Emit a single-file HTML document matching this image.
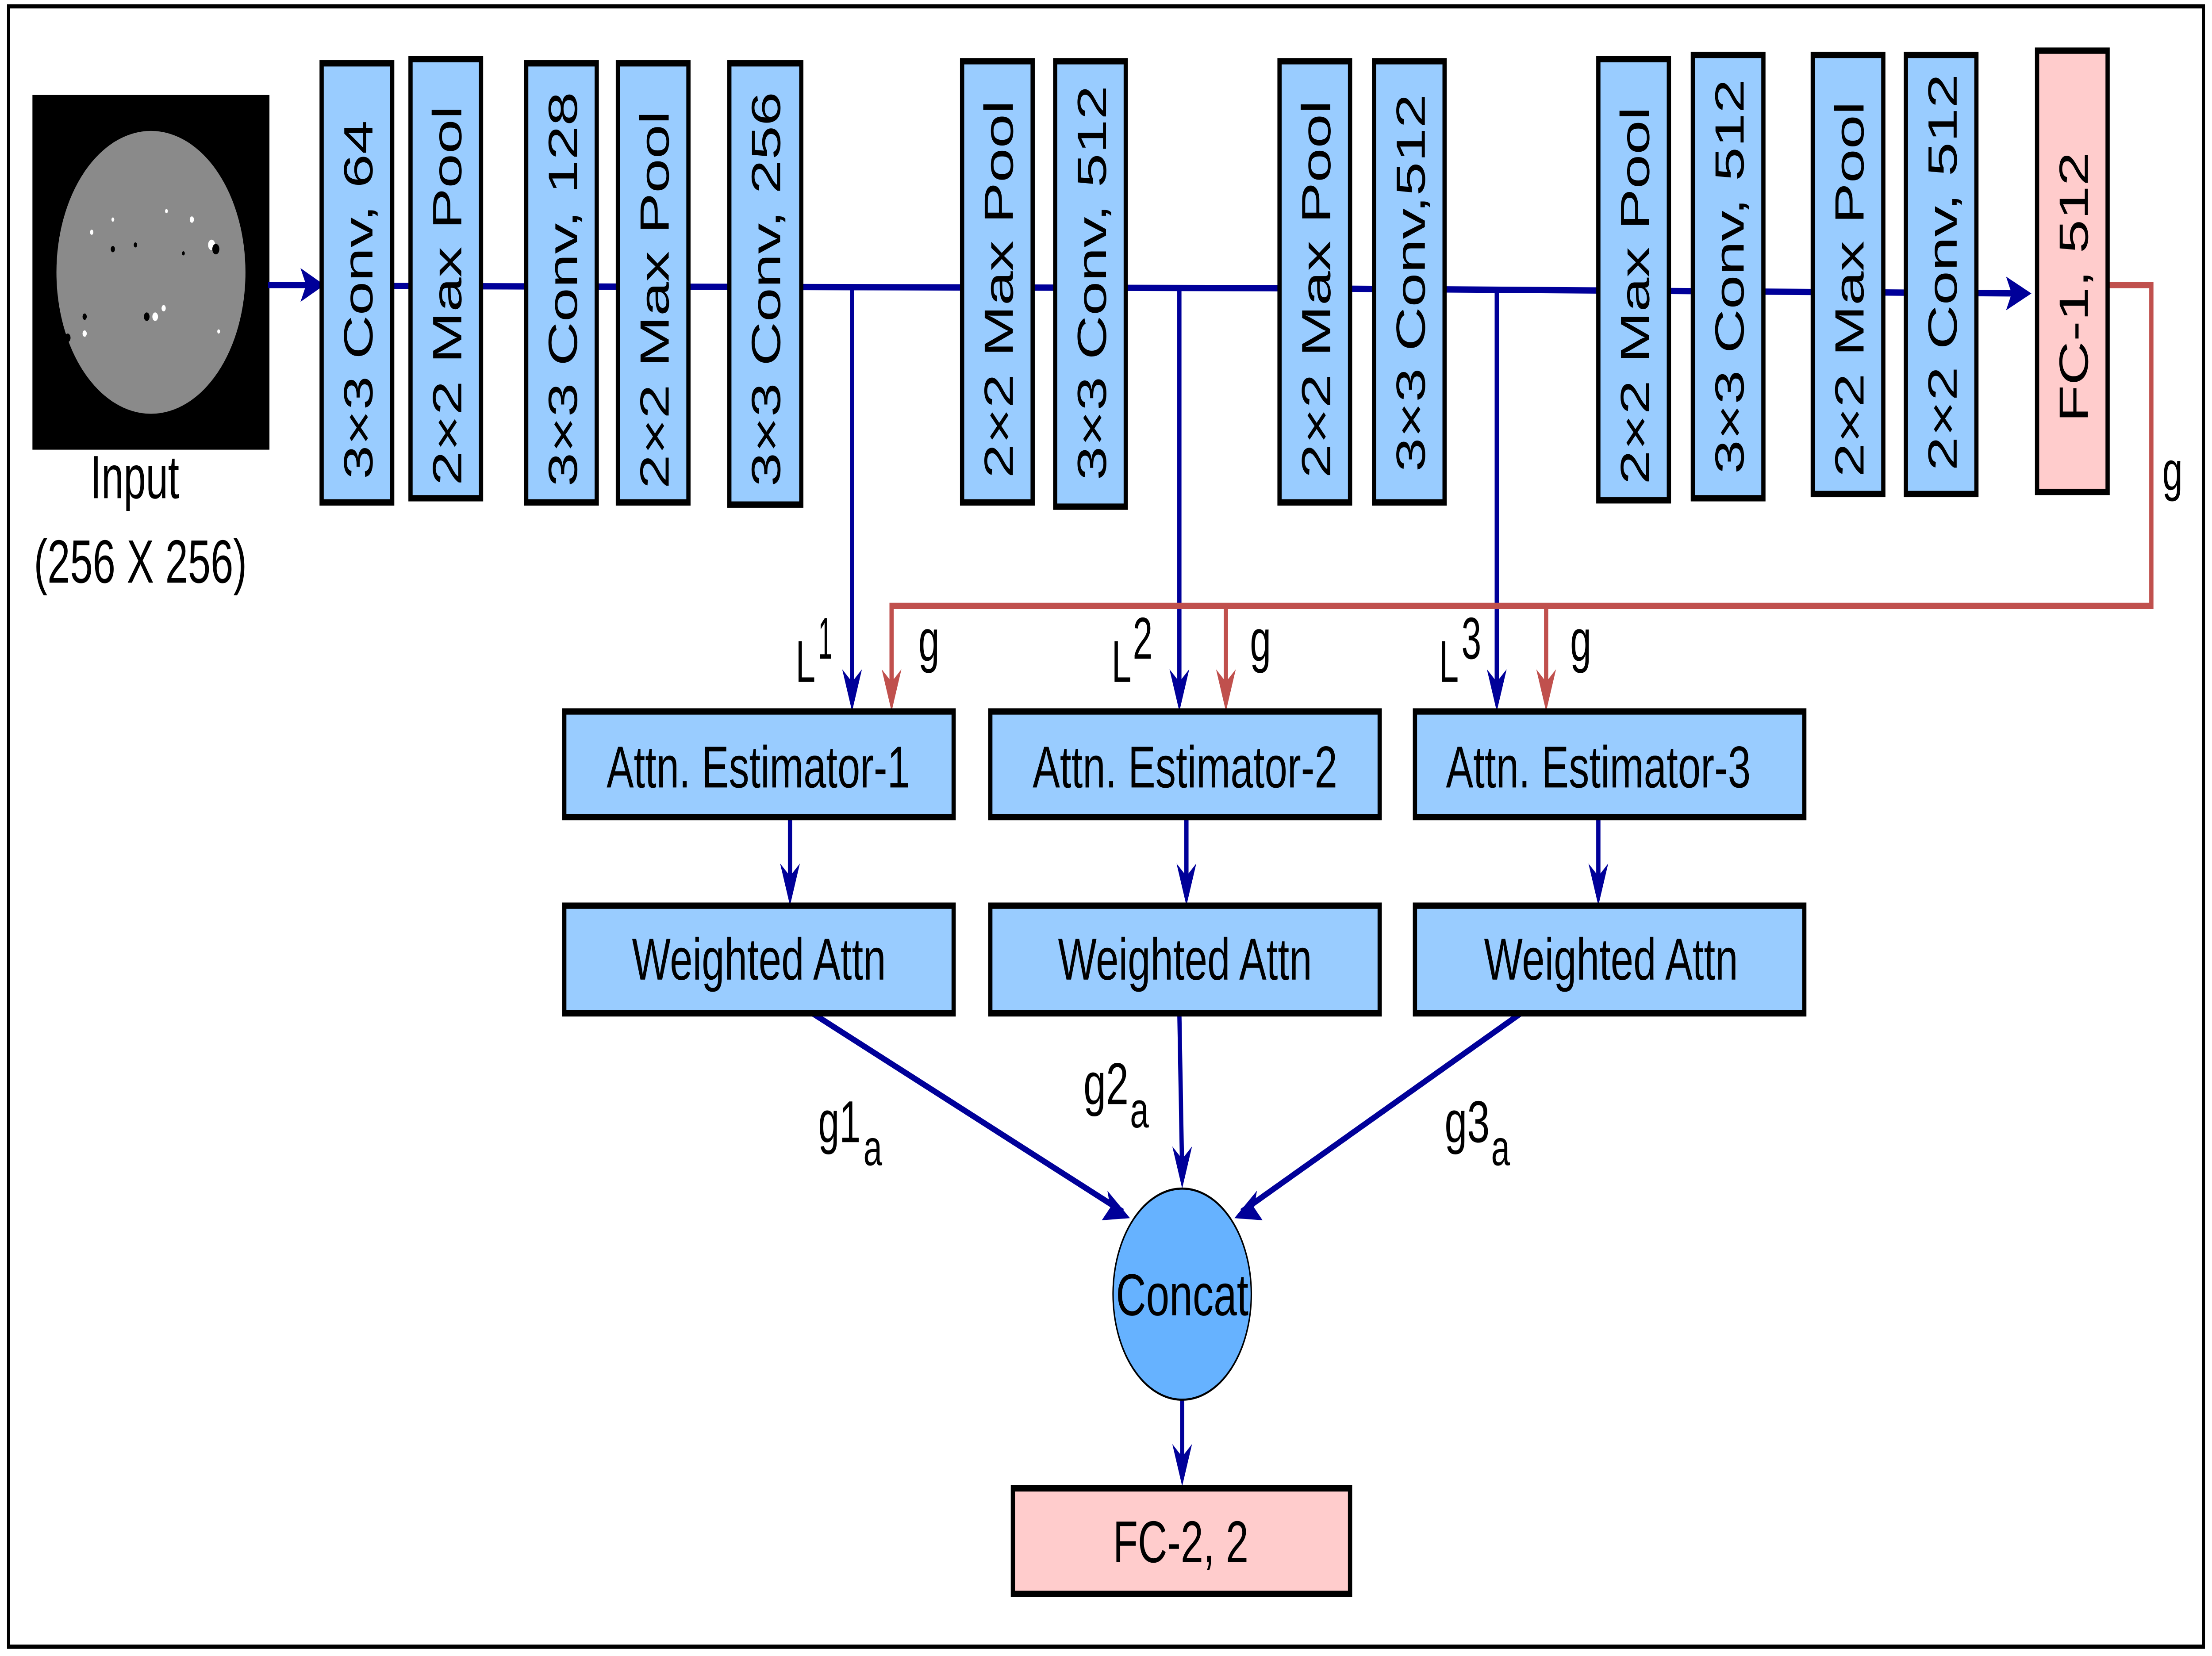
<!DOCTYPE html>
<html><head><meta charset="utf-8"><style>
html,body{margin:0;padding:0;background:#fff;width:100%;height:100%;overflow:hidden;}
svg{display:block;position:absolute;left:0;top:0;width:100vw;height:100vh;}
text{font-family:"Liberation Sans",Arial,sans-serif;fill:#000;}
</style></head><body>
<svg viewBox="0 0 1568 784.4" preserveAspectRatio="none" xmlns="http://www.w3.org/2000/svg">
<rect x="0" y="0" width="1568" height="785" fill="#fff"/>
<rect x="6" y="3" width="1556" height="777" fill="none" stroke="#000" stroke-width="2"/>
<rect x="23" y="45" width="168" height="168" fill="#000"/>
<circle cx="107" cy="129" r="67" fill="#8a8a8a"/>
<g fill="#fff"><circle cx="65" cy="110" r="1.2"/><circle cx="80" cy="104" r="1"/><circle cx="118" cy="100" r="1"/><circle cx="136" cy="104" r="1.5"/><circle cx="150" cy="116" r="2.5"/><circle cx="110" cy="150" r="2"/><circle cx="116" cy="146" r="1.5"/><circle cx="60" cy="158" r="1.5"/><circle cx="155" cy="157" r="1"/></g>
<g fill="#000"><circle cx="153" cy="118" r="2.5"/><circle cx="104" cy="150" r="2"/><circle cx="80" cy="118" r="1.5"/><circle cx="60" cy="150" r="1.5"/><circle cx="130" cy="120" r="1"/><circle cx="96" cy="116" r="1.2"/><circle cx="48" cy="160" r="2"/></g>
<text x="64" y="236" font-size="29" textLength="63" lengthAdjust="spacingAndGlyphs">Input</text>
<text x="24" y="276" font-size="29" textLength="151" lengthAdjust="spacingAndGlyphs">(256 X 256)</text>

<g stroke="#000099" stroke-width="3" fill="none">
<line x1="190" y1="135" x2="220" y2="135"/>
<polyline points="278,135.5 900,136.5 1434,139"/>
<line x1="604" y1="136" x2="604" y2="330"/>
<line x1="836" y1="136.5" x2="836" y2="330"/>
<line x1="1061" y1="137.5" x2="1061" y2="330"/>
<line x1="560" y1="387" x2="560" y2="423"/>
<line x1="841" y1="387" x2="841" y2="423"/>
<line x1="1133" y1="387" x2="1133" y2="423"/>
<line x1="576" y1="480" x2="796" y2="574"/>
<line x1="836" y1="480" x2="838" y2="556"/>
<line x1="1078" y1="480" x2="880" y2="574"/>
<line x1="838" y1="663" x2="838" y2="697"/>
</g>
<g fill="#000099">
<polygon points="230,135 213,127 217,135 213,143"/>
<polygon points="1440,139 1422,131 1426,139 1422,147"/>
<polygon points="604,337 597,317 604,323 611,317"/>
<polygon points="836,337 829,317 836,323 843,317"/>
<polygon points="1061,337 1054,317 1061,323 1068,317"/>
<polygon points="560,429 553,409 560,415 567,409"/>
<polygon points="841,429 834,409 841,415 848,409"/>
<polygon points="1133,429 1126,409 1133,415 1140,409"/>
<polygon points="838,563 831,543 838,549 845,543"/>
<polygon points="838,704 831,684 838,690 845,684"/>
<polygon points="801,577 781,578 787,572 785,564"/>
<polygon points="875,577 895,578 889,572 891,564"/>
</g>
<g stroke="#C0504D" stroke-width="3" fill="none">
<polyline points="1494,135 1525,135 1525,287 632,287 632,330"/>
<line x1="869" y1="287" x2="869" y2="330"/>
<line x1="1096" y1="287" x2="1096" y2="330"/>
</g>
<g fill="#C0504D">
<polygon points="632,337 625,317 632,323 639,317"/>
<polygon points="869,337 862,317 869,323 876,317"/>
<polygon points="1096,337 1089,317 1096,323 1103,317"/>
</g>

<g stroke="#000" stroke-width="3" fill="#99CCFF">
<rect x="228" y="30" width="50" height="208"/>
<rect x="291" y="28" width="50" height="208"/>
<rect x="373" y="30" width="50" height="208"/>
<rect x="438" y="30" width="50" height="208"/>
<rect x="517" y="30" width="51" height="209"/>
<rect x="682" y="29" width="50" height="209"/>
<rect x="748" y="29" width="50" height="211"/>
<rect x="907" y="29" width="50" height="209"/>
<rect x="974" y="29" width="50" height="209"/>
<rect x="1133" y="28" width="50" height="209"/>
<rect x="1200" y="26" width="50" height="210"/>
<rect x="1285" y="26" width="50" height="208"/>
<rect x="1351" y="26" width="50" height="208"/>
<rect x="1444" y="24" width="50" height="209" fill="#FFCCCC"/>
</g>
<g font-size="29" text-anchor="middle">
<text transform="translate(264 142) rotate(-90)" textLength="170" lengthAdjust="spacingAndGlyphs">3×3 Conv, 64</text>
<text transform="translate(327 140) rotate(-90)" textLength="180" lengthAdjust="spacingAndGlyphs">2×2 Max Pool</text>
<text transform="translate(409 137) rotate(-90)" textLength="187" lengthAdjust="spacingAndGlyphs">3×3 Conv, 128</text>
<text transform="translate(474 142) rotate(-90)" textLength="179" lengthAdjust="spacingAndGlyphs">2×2 Max Pool</text>
<text transform="translate(553 137) rotate(-90)" textLength="187" lengthAdjust="spacingAndGlyphs">3×3 Conv, 256</text>
<text transform="translate(718 137) rotate(-90)" textLength="179" lengthAdjust="spacingAndGlyphs">2×2 Max Pool</text>
<text transform="translate(784 134) rotate(-90)" textLength="187" lengthAdjust="spacingAndGlyphs">3×3 Conv, 512</text>
<text transform="translate(943 137) rotate(-90)" textLength="179" lengthAdjust="spacingAndGlyphs">2×2 Max Pool</text>
<text transform="translate(1010 134) rotate(-90)" textLength="179" lengthAdjust="spacingAndGlyphs">3×3 Conv,512</text>
<text transform="translate(1169 140) rotate(-90)" textLength="179" lengthAdjust="spacingAndGlyphs">2×2 Max Pool</text>
<text transform="translate(1236 131) rotate(-90)" textLength="187" lengthAdjust="spacingAndGlyphs">3×3 Conv, 512</text>
<text transform="translate(1321 137) rotate(-90)" textLength="178" lengthAdjust="spacingAndGlyphs">2×2 Max Pool</text>
<text transform="translate(1387 129) rotate(-90)" textLength="188" lengthAdjust="spacingAndGlyphs">2×2 Conv, 512</text>
<text transform="translate(1480 136) rotate(-90)" textLength="128" lengthAdjust="spacingAndGlyphs">FC-1, 512</text>
</g>
<text x="1540" y="232" font-size="26" text-anchor="middle">g</text>

<g font-size="28">
<text x="564" y="323" textLength="14" lengthAdjust="spacingAndGlyphs">L</text><text x="580" y="312" textLength="10" lengthAdjust="spacingAndGlyphs">1</text>
<text x="651" y="313" textLength="15" lengthAdjust="spacingAndGlyphs">g</text>
<text x="788" y="323" textLength="14" lengthAdjust="spacingAndGlyphs">L</text><text x="803" y="312" textLength="14" lengthAdjust="spacingAndGlyphs">2</text>
<text x="886" y="313" textLength="15" lengthAdjust="spacingAndGlyphs">g</text>
<text x="1020" y="323" textLength="14" lengthAdjust="spacingAndGlyphs">L</text><text x="1036" y="312" textLength="14" lengthAdjust="spacingAndGlyphs">3</text>
<text x="1113" y="313" textLength="15" lengthAdjust="spacingAndGlyphs">g</text>
</g>

<g stroke="#000" stroke-width="3" fill="#99CCFF">
<rect x="400" y="337" width="276" height="50"/>
<rect x="702" y="337" width="276" height="50"/>
<rect x="1003" y="337" width="276" height="50"/>
<rect x="400" y="429" width="276" height="51"/>
<rect x="702" y="429" width="276" height="51"/>
<rect x="1003" y="429" width="276" height="51"/>
</g>
<g font-size="28">
<text x="430" y="373" textLength="215" lengthAdjust="spacingAndGlyphs">Attn. Estimator-1</text>
<text x="732" y="373" textLength="216" lengthAdjust="spacingAndGlyphs">Attn. Estimator-2</text>
<text x="1025" y="373" textLength="216" lengthAdjust="spacingAndGlyphs">Attn. Estimator-3</text>
<text x="448" y="464" textLength="180" lengthAdjust="spacingAndGlyphs">Weighted Attn</text>
<text x="750" y="464" textLength="180" lengthAdjust="spacingAndGlyphs">Weighted Attn</text>
<text x="1052" y="464" textLength="180" lengthAdjust="spacingAndGlyphs">Weighted Attn</text>
</g>
<g font-size="28">
<text x="580" y="541" textLength="30" lengthAdjust="spacingAndGlyphs">g1</text><text x="612" y="552" font-size="24">a</text>
<text x="768" y="523" textLength="32" lengthAdjust="spacingAndGlyphs">g2</text><text x="801" y="534" font-size="24">a</text>
<text x="1024" y="541" textLength="32" lengthAdjust="spacingAndGlyphs">g3</text><text x="1057" y="552" font-size="24">a</text>
</g>

<ellipse cx="838" cy="613" rx="49" ry="50" fill="#66B2FF" stroke="#000" stroke-width="1"/>
<text x="791" y="623" font-size="28" textLength="94" lengthAdjust="spacingAndGlyphs">Concat</text>

<rect x="718" y="705" width="239" height="50" fill="#FFCCCC" stroke="#000" stroke-width="3"/>
<text x="789" y="740" font-size="28" textLength="96" lengthAdjust="spacingAndGlyphs">FC-2, 2</text>
</svg>
</body></html>
